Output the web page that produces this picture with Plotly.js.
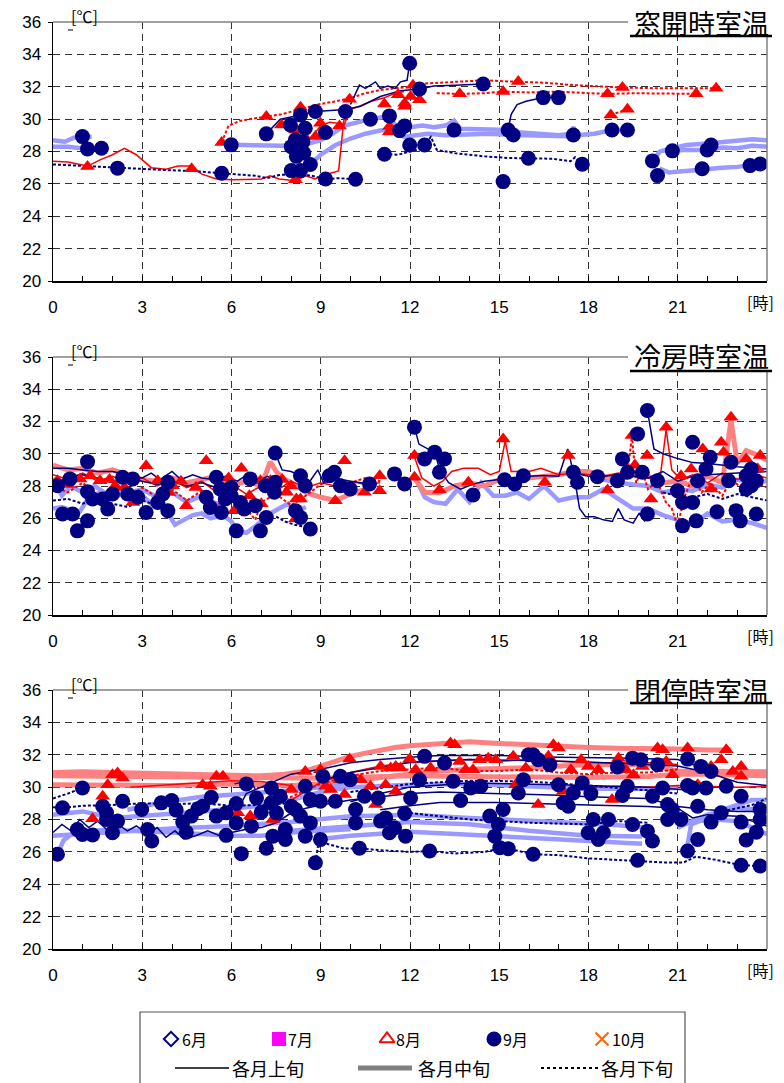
<!DOCTYPE html>
<html><head><meta charset="utf-8">
<script src="https://cdn.plot.ly/plotly-3.0.1.min.js"></script>
<style>html,body{margin:0;padding:0;background:#fff;}</style>
</head><body>
<div id="chart" style="width:784px;height:1083px;"></div>
<script>
// ---------- DATA (hour, °C) ----------
const panelTitles = ['窓開時室温', '冷房時室温', '閉停時室温'];
const hourTicks = [0, 3, 6, 9, 12, 15, 18, 21];
const tempTicks = [20, 22, 24, 26, 28, 30, 32, 34, 36];
const monthLabels = ['6月', '7月', '8月', '9月', '10月'];
const periodLabels = ['各月上旬', '各月中旬', '各月下旬'];

// Panel 1: 窓開時室温
const p1RedSolidA = [[0,27.4],[0.5,27.35],[1.16,27.1],[1.6,27.5],[2.0,27.8],[2.4,28.2],[2.8,27.8],[3.3,27.0],[3.8,26.9],[4.2,27.1],[4.66,27.1],[5.0,26.6],[5.5,26.3],[6.0,26.25],[7.0,26.3],[7.3,26.5],[7.6,26.3],[8.15,26.2],[8.5,26.5],[8.8,26.3],[9.2,26.6],[9.6,26.8],[9.75,29.5],[10.0,30.6],[10.3,30.8],[10.7,31.1],[11.1,31.3],[11.5,31.6],[11.8,31.7]];
const p1RedSolidB = [[8.0,29.8],[8.3,29.5],[8.65,28.8],[9.0,29.6],[9.3,29.8],[9.75,29.7],[9.9,30.8]];
const p1RedDotA = [[5.67,28.55],[5.9,29.6],[6.3,29.9],[6.7,30.0],[7.17,30.16],[7.68,30.3],[8.3,30.6],[8.9,30.9],[9.5,31.1],[10.0,31.3],[10.5,31.6],[11.0,31.8],[11.5,31.9],[12.0,32.0],[12.5,32.2],[13.5,32.3],[14.5,32.4],[15.0,32.35],[15.64,32.32],[16.5,32.25],[17.5,32.1],[18.5,32.0],[19.14,31.95],[20.5,31.9],[21.5,31.9],[22.29,31.9]];
const p1RedDotB = [[12.9,31.6],[13.67,31.56],[14.5,31.6],[15.13,31.7],[16.0,31.65],[17.0,31.7],[18.0,31.6],[18.64,31.56],[19.5,31.6],[20.5,31.6],[21.62,31.56]];
const p1RedDotC = [[18.75,30.26],[19.31,30.61]];
const p1NavySolidA = [[7.17,29.09],[7.64,29.99],[8.32,30.26],[8.82,30.47],[9.83,30.6],[10.34,30.8],[11.0,31.4],[11.68,31.76],[12.32,31.86],[12.8,32.05],[13.5,32.1],[14.46,32.17]];
const p1NavySolidB = [[10.0,30.9],[10.3,32.1],[10.5,31.9],[10.84,32.3],[11.0,31.9],[11.25,32.05],[11.5,31.9],[11.68,32.3],[11.9,32.4],[11.99,33.45]];
const p1NavySolidC = [[15.3,29.33],[15.4,30.3],[15.6,30.9],[15.9,31.1],[16.48,31.33],[16.99,31.33]];
const p1NavyDotA = [[0,27.2],[0.5,27.15],[1.16,27.1],[2.17,26.97],[3.0,26.9],[3.8,26.85],[4.66,26.8],[5.67,26.66],[6.2,26.55],[6.8,26.5],[7.2,26.35],[7.6,26.55],[8.2,26.6],[8.7,26.5],[9.16,26.3],[9.6,26.35],[10.17,26.29]];
const p1NavyDotB = [[11.14,27.83],[11.6,27.8],[12.0,28.0],[12.4,28.2],[12.7,28.9],[12.9,28.1],[13.5,27.9],[14.5,27.7],[15.3,27.6],[15.98,27.58],[16.8,27.55],[17.4,27.4],[17.55,27.65],[17.79,27.21]];
const p1BlueA = [[0,28.7],[0.4,28.6],[0.7,28.85],[0.99,28.92],[1.3,28.9]];
const p1BlueB = [[0,28.3],[0.5,28.3],[1.16,28.16],[1.63,28.2]];
const p1BlueC = [[5.99,28.41],[6.5,28.4],[7.2,28.4],[7.7,28.35],[8.2,28.45],[8.6,28.5],[9.0,28.7],[9.4,29.1],[9.8,29.6],[10.2,29.8],[10.67,30.0],[11.0,30.1],[11.3,30.2],[11.55,29.5],[12.0,29.5],[12.4,29.6],[12.8,29.5],[13.2,29.6],[13.48,29.9],[13.7,29.4],[14.5,29.35],[15.0,29.35],[15.5,29.2],[16.5,29.1],[17.0,29.0],[17.4,29.1]];
const p1BlueD = [[8.65,27.2],[9.0,27.8],[9.5,28.4],[10.0,28.8],[10.5,29.1],[11.0,29.3],[11.5,29.4],[11.8,28.9],[12.2,29.0],[12.6,29.1],[13.2,29.0],[14.0,29.05],[14.6,29.1],[15.47,29.02],[16.0,29.0],[16.6,28.95],[17.3,28.95],[17.5,29.5],[17.6,29.0],[18.2,29.1],[18.79,29.33],[19.31,29.33]];
const p1BlueE = [[20.15,27.42],[20.4,28.0],[20.82,28.2],[21.3,28.4],[21.99,28.5],[22.5,28.6],[23.0,28.7],[23.5,28.75],[24,28.7]];
const p1BlueF = [[20.82,28.04],[21.3,28.1],[21.99,28.1],[22.5,28.25],[23.0,28.2],[23.5,28.35],[24,28.3]];
const p1BlueG = [[20.32,26.51],[20.45,26.9],[20.7,26.7],[21.2,26.8],[21.82,26.93],[22.5,27.0],[23.0,27.05],[23.43,27.13],[23.77,27.23]];
const p1Circles = [[0.99,28.92],[1.16,28.16],[1.63,28.2],[2.17,26.97],[5.67,26.66],[5.99,28.41],[7.17,29.09],[7.98,29.64],[8.32,30.26],[8.01,28.3],[8.15,28.72],[8.4,28.6],[8.18,27.7],[8.43,27.9],[8.65,27.2],[8.01,26.82],[8.32,26.82],[8.48,29.44],[8.82,30.47],[9.16,29.17],[9.16,26.3],[9.83,30.47],[10.17,26.29],[10.67,29.99],[11.31,30.2],[11.14,27.83],[11.65,29.29],[11.82,29.58],[11.99,33.45],[11.99,28.4],[12.32,31.86],[12.49,28.4],[13.48,29.33],[14.46,32.17],[15.3,29.33],[15.47,29.02],[15.13,26.14],[15.98,27.58],[16.48,31.33],[16.99,31.33],[17.49,29.02],[17.79,27.21],[18.79,29.33],[19.31,29.33],[20.15,27.42],[20.32,26.51],[20.82,28.04],[21.82,26.93],[21.99,28.1],[22.12,28.4],[23.43,27.13],[23.77,27.23]];
const p1Triangles = [[5.67,28.55],[1.16,27.07],[4.66,26.93],[7.17,30.16],[7.68,29.64],[8.32,30.73],[8.15,29.33],[8.3,30.3],[8.82,28.92],[8.99,29.74],[9.63,29.58],[9.97,31.23],[11.14,30.94],[11.31,29.54],[11.3,29.2],[11.6,31.5],[11.82,30.98],[11.82,30.8],[12.02,31.39],[12.32,31.19],[12.1,32.1],[13.67,31.56],[15.13,31.7],[15.64,32.32],[18.64,31.56],[19.14,31.95],[18.75,30.26],[19.31,30.61],[21.62,31.56],[22.29,31.9],[8.15,26.25]];

// Panel 2: 冷房時室温
const p2PinkA = [[0,29.3],[0.5,29.0],[1,29.1],[1.5,28.8],[2,29.0],[2.5,28.7],[3,28.4],[3.5,28.3],[4,28.5],[4.5,28.2],[5,28.4],[5.5,28.6],[6,28.0],[6.5,28.3],[7,28.0],[7.3,29.5],[7.5,28.9],[7.8,28.4],[8.2,28.0],[8.5,27.6],[9,27.3],[9.5,27.1],[10,27.5],[10.5,27.8]];
const p2PinkB = [[12.15,28.5],[12.5,27.6],[13.0,27.6],[13.5,28.0],[14.0,28.2],[14.5,28.0],[15.0,28.4],[15.5,28.3],[16.0,28.5],[16.5,28.6],[17.0,28.7],[17.5,28.9],[18.0,28.9],[18.5,28.6],[19.0,28.4],[19.5,28.7],[20.0,28.6],[20.5,28.2],[21.0,28.3],[21.5,28.0],[22.0,28.6],[22.5,28.2],[22.79,32.1],[23.0,29.4],[23.3,30.2],[23.7,29.9],[24,29.6]];
const p2NavyA = [[0,29.1],[0.5,29.1],[1,29.0],[1.5,28.9],[2,28.9],[2.5,28.7],[3,28.5],[3.3,28.8],[3.6,28.4],[4.0,28.9],[4.3,28.4],[4.7,28.7],[5.0,28.5],[5.4,28.4],[5.8,28.6],[6.2,28.3],[6.6,28.8],[6.9,28.3],[7.2,28.6],[7.5,28.4]];
const p2NavyB = [[0,28.0],[0.5,28.6],[1,28.7],[1.5,28.5],[2,28.2],[2.5,28.5],[3,28.3],[3.5,28.1],[4,28.3],[4.5,28.0],[5,28.2],[5.5,27.9],[6,28.1]];
const p2NavyC = [[7.47,30.05],[7.7,29.0],[8.0,28.9],[8.32,28.64],[8.6,28.2],[8.9,29.0],[9.1,28.2],[9.29,28.64],[9.5,28.5],[9.7,28.4],[10.0,28.3],[10.3,28.2],[10.64,28.12]];
const p2NavyD = [[12.15,31.65],[12.3,30.6],[12.6,30.3],[12.83,30.1],[13.0,29.0],[13.3,28.2],[13.7,27.8],[14.1,28.1],[14.5,28.3],[15.0,28.4],[15.5,28.35],[16.0,28.6],[16.5,28.65],[17.0,28.6],[17.3,30.3],[17.5,28.8],[17.7,26.6],[17.9,26.1],[18.2,26.1],[18.5,25.9],[18.8,25.8],[19.0,26.6],[19.2,25.9],[19.5,25.7],[19.7,26.3],[19.9,25.8]];
const p2NavyE = [[19.98,32.68],[20.2,30.3],[20.5,30.0],[21.0,29.7],[21.5,29.45],[22.0,29.4],[23.0,29.2],[24,29.05]];
const p2NavyF = [[17.5,28.8],[18.0,28.6],[18.5,28.6],[19.0,28.7],[19.5,28.6],[20.0,28.5],[20.5,28.9],[21.0,28.3],[21.5,28.6],[22,28.7],[23,28.8],[24,28.9]];
const p2RedA = [[0,28.7],[0.5,28.4],[1,28.8],[1.5,28.3],[2,28.6],[2.5,28.2],[3,28.5],[3.5,28.0],[4,28.4],[4.5,27.9],[5,28.3],[5.5,27.6],[6,28.1],[6.5,27.5],[7,28.0],[7.5,27.7],[8,28.3],[8.5,27.9],[9,28.2],[9.5,28.0],[10,28.3],[10.5,28.1],[11,28.2]];
const p2RedB = [[12.15,29.8],[12.4,28.5],[12.8,28.0],[13.1,28.3],[13.4,28.9],[13.8,29.1],[14.3,29.1],[14.7,28.7],[15.0,28.9],[15.2,30.8],[15.4,28.9],[16.0,28.9],[16.4,29.1],[17.0,28.7],[17.5,28.8],[18.0,28.7],[18.5,28.6],[19.0,28.8],[19.5,28.6],[20.0,28.5],[20.4,28.4],[20.61,31.5],[20.8,29.0],[21.1,28.4],[21.5,28.7],[22,28.2],[22.5,28.8],[23,28.4],[23.5,28.7],[24,28.5]];
const p2RedDotA = [[0,28.0],[0.5,27.6],[1,28.2],[1.5,27.4],[2,27.8],[2.5,27.2],[3,27.9],[3.5,27.3],[4,27.8],[4.5,27.1],[5,27.7],[5.5,26.8],[6,27.4],[6.5,26.6],[6.8,25.9],[7,27.0],[7.5,27.5],[8,26.8],[8.5,27.4],[9,28.1],[9.5,28.4],[10,28.2],[10.5,28.5],[11,28.3]];
const p2RedDotB = [[19.3,28.6],[19.46,31.1],[19.6,28.2],[19.8,29.0],[20.0,27.8],[20.3,28.3],[20.6,27.0],[20.8,26.6],[21.0,25.5],[21.2,27.2],[21.5,28.6],[21.8,27.6],[22.1,28.2],[22.5,27.4],[22.8,28.4],[23.2,27.8],[23.6,28.3],[24,27.9]];
const p2BlueA = [[0,26.6],[0.3,26.7],[0.6,26.5],[0.9,26.4],[1.1,27.0],[1.3,27.4],[1.6,27.6],[2.0,27.3],[2.5,27.6],[3.0,27.4],[3.3,26.9],[3.6,27.3],[3.9,26.2],[4.1,25.6],[4.4,25.9],[4.7,26.2],[5.0,26.3],[5.3,26.0],[5.7,26.2],[6.0,25.8],[6.2,25.2],[6.5,25.1],[6.8,25.5],[7.0,25.8],[7.3,26.3],[7.6,26.6],[7.9,26.9],[8.2,26.4],[8.5,26.7]];
const p2BlueB = [[0,28.5],[0.3,27.4],[0.6,28.0],[1.0,27.6],[1.4,28.0],[1.8,27.5],[2.2,27.9],[2.6,27.6],[3.0,27.8],[3.5,27.3],[4.0,27.6],[4.5,27.0],[5.0,27.4],[5.5,26.9],[6.0,27.2]];
const p2BlueC = [[12.2,28.4],[12.5,27.3],[12.8,27.0],[13.2,26.9],[13.6,27.8],[14.0,27.0],[14.4,28.2],[14.8,27.4],[15.2,27.4],[15.6,27.6],[16.0,27.2],[16.5,28.0],[17.0,27.1],[17.5,27.3],[18.0,27.3],[18.5,27.8],[19.0,27.2],[19.5,26.6],[20.0,26.6],[20.5,26.2],[21.0,25.9],[21.5,25.6],[22.0,26.3],[22.5,25.8],[23.0,25.9],[23.5,25.7],[24,25.4]];
const p2BlueD = [[18.5,28.4],[19.0,28.2],[19.5,28.1],[20.0,28.0],[20.5,27.6],[21.0,27.8],[21.5,27.7],[22.0,28.1],[22.5,27.9],[23.0,28.4],[23.5,28.2],[24,28.3]];
const p2NavyDotA = [[0,27.1],[0.5,27.2],[1.0,26.9],[1.5,27.3],[2.0,26.9],[2.5,26.7],[3.0,27.1],[3.5,26.8]];
const p2NavyDotB = [[7.5,26.1],[7.8,25.8],[8.1,25.6],[8.4,25.5],[8.65,25.4]];
const p2NavyDotC = [[20.5,27.6],[21.0,27.4],[21.5,27.3],[22.0,27.5],[22.5,27.2],[23.0,27.5],[23.5,27.3],[24,27.1]];
const p2CirclesAM = [[0.15,28.02],[0.32,26.26],[0.66,26.26],[0.82,25.22],[1.16,25.84],[1.16,29.51],[1.16,27.65],[1.33,27.19],[0.57,28.44],[1.67,27.19],[1.84,26.57],[2.0,27.5],[2.34,28.54],[2.68,28.44],[2.51,27.5],[2.85,27.3],[3.13,26.36],[3.52,26.98],[3.69,27.5],[3.86,26.47],[3.86,28.23],[5.15,27.3],[5.29,26.67],[5.49,28.54],[5.62,27.81],[5.66,26.36],[5.79,27.19],[5.99,27.92],[5.99,27.4],[6.16,25.22],[6.3,26.98],[6.43,26.57],[6.63,28.44],[6.8,26.78],[6.97,25.22],[7.14,28.02],[7.17,26.05],[7.44,27.61],[7.47,28.23],[7.47,30.05],[8.15,26.47],[8.32,28.64],[8.32,26.05],[8.48,28.02],[8.65,25.33],[9.46,28.85],[9.66,28.02],[9.99,27.81],[10.64,28.12],[11.48,28.75],[11.82,28.12],[9.29,28.64]];
const p2CirclesPM = [[12.15,31.65],[12.49,29.68],[12.83,30.1],[13.16,29.68],[12.99,28.85],[14.12,27.44],[15.18,28.39],[15.52,28.12],[15.81,28.64],[17.49,28.85],[17.63,28.23],[18.3,28.58],[18.97,28.33],[19.14,29.68],[19.31,28.85],[19.65,31.23],[19.98,32.68],[19.81,28.85],[19.98,26.26],[20.32,28.33],[20.99,27.71],[21.16,26.98],[21.5,26.98],[21.16,25.53],[21.5,30.71],[21.67,28.33],[21.62,25.84],[22.09,29.78],[21.95,29.06],[22.32,26.4],[22.79,29.47],[22.71,28.33],[22.96,26.47],[23.1,25.84],[23.3,28.64],[23.47,28.02],[23.64,28.33],[23.64,26.26],[23.3,27.81],[23.47,29.06]];
const p2TrianglesAM = [[0.15,28.33],[0.91,28.44],[1.25,28.64],[1.58,28.33],[2.09,28.02],[2.68,26.98],[3.13,29.26],[3.52,28.33],[4.02,28.02],[4.48,26.78],[5.15,29.57],[5.62,28.02],[6.33,29.1],[6.97,28.33],[7.39,28.02],[7.85,27.61],[8.18,27.19],[8.15,25.95],[9.49,27.09],[9.8,29.57],[10.47,27.61],[10.98,28.64],[10.98,27.71],[6.09,26.47],[7.31,28.33],[8.32,27.19],[0.5,28.1],[1.9,28.4],[2.4,27.9],[3.9,27.6],[4.3,28.3],[4.8,27.9],[5.9,28.5],[6.6,27.4],[7.0,26.9],[7.7,28.4],[8.0,28.0]];
const p2TrianglesPM = [[12.15,29.89],[12.15,28.54],[12.99,27.75],[13.96,28.23],[15.13,30.92],[16.53,28.23],[17.32,29.89],[18.64,27.75],[19.46,31.13],[19.56,29.31],[19.97,29.89],[20.1,27.19],[20.61,31.65],[21.11,28.64],[21.45,29.06],[21.84,30.3],[22.12,27.81],[22.46,30.71],[22.54,30.09],[22.79,32.27],[23.3,29.68],[23.77,29.89],[23.69,29.06]];

// Panel 3: 閉停時室温
const p3PinkA = [[0,30.9],[1,30.95],[2,30.9],[3,30.85],[4,30.8],[5,30.8],[6,30.75],[7,30.7],[7.8,30.8],[8.5,31.0],[9,31.3],[9.5,31.6],[10,31.9],[10.5,32.1],[11,32.3],[11.5,32.45],[12,32.55],[13,32.65],[14,32.8],[15,32.7],[16,32.6],[17,32.55],[18,32.45],[19,32.4],[20,32.4],[21,32.35],[22,32.3],[22.8,32.3]];
const p3PinkB = [[0,30.7],[2,30.65],[4,30.6],[6,30.55],[8,30.5],[9,30.55],[10,30.6],[12,30.7],[14,30.65],[16,30.6],[18,30.6],[20,30.65],[21,30.8],[22,30.8],[23,30.75],[24,30.7]];
const p3PinkC = [[0,30.15],[2,30.1],[4,30.1],[6,30.2],[8,30.1],[9,30.2],[10,30.4],[11,30.6],[12,30.8],[13,31.0],[14,31.1],[16,31.2],[18,31.4],[20,31.4],[21,31.0],[22,31.0],[23,30.95],[24,30.95]];
const p3RedA = [[2.6,30.0],[3,30.05],[4,30.15],[5,30.3],[6,30.4],[7,30.35],[8,30.1]];
const p3RedB = [[8,29.2],[9,30.3],[10,30.9],[11,31.3],[12,31.5],[13,31.6],[14,31.7],[15,31.6],[16,31.7],[17,31.6],[18,31.5],[19,31.5],[20,31.5],[21,31.4]];
const p3RedC = [[17.5,30.1],[18,30.0],[19,30.05],[20,30.0],[21,30.1],[22,30.05],[23,30.0],[24,30.05]];
const p3RedDot = [[7.5,29.0],[8,29.4],[9,30.2],[10,30.7],[11,31.0],[12,31.1],[13,31.2],[14,31.0],[15,31.0],[16,31.1],[17,30.9],[18,30.8],[19,30.9],[20,30.9],[21,31.1]];
const p3NavyA = [[0,27.2],[0.3,27.7],[0.6,27.3],[0.9,28.0],[1.2,27.5],[1.5,27.9],[1.8,27.4],[2.1,27.8],[2.5,27.3],[2.8,27.6],[3.2,27.1],[3.5,27.5],[3.8,26.9],[4.1,27.3],[4.4,26.8],[4.8,27.0],[5.2,27.3],[5.6,27.0],[6.0,27.2],[6.5,27.4],[7.0,27.5],[7.5,27.8],[8.0,28.4],[8.5,28.7],[9.0,28.9],[10.0,29.2],[11.0,29.4],[12.0,29.6],[13.0,29.7],[15.0,29.6],[17.0,29.5],[18.0,29.4],[20.0,29.3],[21.0,28.8],[22.0,28.6],[23.0,28.5],[24.0,28.5]];
const p3NavyB = [[6.2,28.6],[6.5,29.6],[7.0,30.0],[7.5,30.4],[8.0,30.8],[9.0,31.1],[10.0,31.5],[11.0,31.7],[12.0,31.85],[13.0,31.95],[15.0,31.95],[17.0,31.85],[19.0,31.8],[21.0,31.7],[21.5,31.4],[22,31.2]];
const p3NavyC = [[9,30.4],[10,30.9],[11,31.2],[12,31.55],[14,31.7],[16,31.65],[18,31.55],[20,31.4],[21,31.3],[22,30.9],[23,30.3],[24,30.1]];
const p3NavyD = [[10,29.1],[11,29.6],[12,30.0],[14,30.25],[17,30.15],[20,30.0],[21.5,29.8]];
const p3NavyE = [[11,28.6],[12,28.85],[13,29.05],[15,29.05],[18,28.9],[20,28.8],[21,28.7],[21.5,28.1],[22,28.3],[23,28.2],[23.5,27.9],[24,27.6]];
const p3NavyF = [[6.1,30.2],[6.6,30.4],[6.8,29.9]];
const p3NavyDotA = [[8.82,25.33],[8.9,26.3],[9.2,26.5],[9.8,26.2],[10.3,26.22],[11.0,26.1],[12.0,26.0],[12.66,26.05],[13.5,25.9],[14.0,25.95],[14.5,26.0],[15.0,26.2],[15.3,26.2],[16.14,25.85],[17.0,25.8],[18.0,25.6],[19.0,25.5],[19.65,25.48],[20.5,25.35],[21.2,25.35],[21.6,25.7],[22.3,25.5],[23.13,25.17],[23.77,25.13]];
const p3NavyDotB = [[0,29.3],[0.5,29.6],[0.99,29.95]];
const p3NavyDotC = [[0,28.75],[0.32,28.72],[1,28.85],[2,28.9],[3,29.0],[4,28.95],[5,29.0],[6,28.85],[7,28.9],[8,29.0]];
const p3NavyDotD = [[10,29.7],[12,30.2],[14,30.4],[16,30.35],[18,30.1],[20,29.8],[21,29.6]];
const p3NavyDotE = [[12,28.4],[14,28.0],[16,27.8],[18,27.7],[19,27.9],[20,27.8]];
const p3NavyDotF = [[22.5,28.5],[23,28.7],[23.5,28.9],[24,29.3]];
const p3BlueA = [[0.15,25.85],[0.35,26.7],[0.7,27.2],[1.2,27.3],[2,27.35],[3,27.3],[4,27.2],[5,27.1],[6,27.0],[7,27.0],[8,27.2],[9,27.3],[10,27.4]];
const p3BlueB = [[0,28.3],[1,28.5],[2,28.1],[3,28.2],[4,28.35],[5,28.5],[6,28.7],[7,28.85],[8,29.2],[9,29.7],[10,30.0],[11,30.1],[12,30.15],[14,30.2],[16,30.05],[18,29.9],[20,29.9],[21,29.95]];
const p3BlueC = [[0,27.0],[2,27.25],[4,27.45],[6,27.6],[8,27.85],[10,28.2],[12,28.3],[14,28.1],[16,27.95],[18,27.75],[19,27.65],[19.9,27.5]];
const p3BlueD = [[8,27.3],[10,27.6],[12,27.85],[14,27.7],[16,27.3],[18,27.0],[19.8,26.95]];
const p3BlueE = [[9,26.8],[10,27.0],[12,27.25],[14,27.05],[16,26.9],[18,26.65],[19.8,26.5]];
const p3BlueF = [[2.5,28.6],[3.5,29.0],[5,29.4],[6.5,29.6],[8,29.8],[9.5,30.1],[10.5,30.5]];
const p3BlueG = [[21.3,26.1],[21.45,27.7],[22,28.1],[22.5,28.6],[23,28.9],[23.5,29.2],[24,29.2]];
const p3BlueH = [[21,27.5],[22,28.3],[23,28.7],[24,28.6]];
const p3BlueI = [[21.6,27.9],[22.2,28.0],[23,27.9],[24,27.1]];
const p3Circles = [[0.15,25.85],[0.32,28.72],[0.99,29.95],[0.82,27.38],[0.99,27.08],[1.33,27.04],[1.67,28.82],[1.8,28.41],[1.8,28.0],[2.0,27.18],[2.17,27.9],[2.34,29.13],[2.98,28.62],[3.18,27.38],[3.32,26.67],[3.64,29.03],[3.99,29.17],[4.14,28.58],[4.36,27.84],[4.48,27.22],[4.65,28.21],[4.87,28.66],[5.03,28.82],[5.32,29.37],[5.49,28.21],[5.82,28.41],[5.82,27.02],[6.16,28.99],[6.16,27.79],[6.33,25.89],[6.5,30.2],[6.67,27.59],[6.84,29.33],[7.0,28.45],[7.17,26.22],[7.34,29.95],[7.34,29.03],[7.39,26.97],[7.51,28.41],[7.64,29.44],[7.81,27.38],[7.81,26.77],[8.01,28.82],[8.15,28.62],[8.32,28.21],[8.48,30.05],[8.48,26.97],[8.65,29.23],[8.65,27.79],[8.82,25.33],[8.99,29.13],[8.99,26.77],[9.07,30.67],[9.49,29.13],[9.66,30.67],[9.99,30.46],[10.17,28.62],[10.17,27.79],[10.3,26.22],[10.47,29.44],[10.93,29.33],[11.01,27.9],[11.18,28.1],[11.31,27.18],[11.48,27.49],[11.82,28.37],[11.85,26.97],[12.02,29.33],[12.32,30.46],[12.49,31.9],[12.66,26.05],[13.16,31.49],[13.45,30.36],[13.7,29.17],[14.04,29.95],[14.38,30.05],[14.68,28.21],[14.85,26.97],[14.97,27.69],[15.02,26.26],[15.13,28.62],[15.3,26.2],[15.64,29.64],[15.81,30.46],[15.98,32.0],[16.14,32.0],[16.31,31.69],[16.14,25.85],[16.7,31.38],[16.99,30.15],[17.15,29.03],[17.32,28.82],[17.49,29.64],[17.79,30.26],[17.99,27.18],[18.08,29.6],[18.16,28.0],[18.33,26.77],[18.5,27.18],[18.67,28.0],[18.97,31.24],[19.14,29.48],[19.31,30.05],[19.48,27.69],[19.48,31.79],[19.65,25.48],[19.76,31.69],[19.98,27.28],[20.15,29.44],[20.15,26.67],[20.32,31.38],[20.49,29.95],[20.66,28.92],[20.82,28.62],[20.66,28.0],[21.11,28.0],[21.33,31.73],[21.33,30.1],[21.33,26.05],[21.5,29.95],[21.67,26.77],[21.67,28.82],[21.78,31.28],[21.95,29.95],[22.12,30.97],[22.12,27.84],[22.46,28.41],[22.63,30.05],[23.13,29.44],[23.13,27.84],[23.3,26.73],[23.13,25.17],[23.64,27.22],[23.77,28.62],[23.77,28.0],[23.77,25.13]];
const p3Triangles = [[1.33,28.04],[1.67,29.44],[1.84,30.15],[2.0,30.77],[2.17,30.87],[2.34,30.56],[5.03,30.15],[5.29,30.05],[5.49,30.67],[5.71,30.67],[6.21,28.41],[6.63,28.21],[7.31,29.23],[7.39,28.0],[8.01,29.85],[8.48,30.97],[8.99,31.08],[9.16,30.05],[9.33,29.85],[9.66,30.46],[9.8,29.54],[9.97,31.73],[10.34,30.46],[10.67,30.05],[10.84,28.92],[11.01,31.28],[11.18,30.15],[11.35,31.18],[11.52,31.28],[11.68,31.18],[11.52,29.74],[11.99,31.73],[12.19,31.08],[12.69,31.18],[13.36,32.72],[13.5,32.62],[13.67,31.59],[13.87,31.08],[14.12,31.08],[14.34,31.69],[14.63,31.79],[14.88,31.69],[15.47,31.9],[15.55,30.15],[15.89,31.18],[16.31,28.92],[16.65,31.9],[16.82,32.62],[16.99,32.41],[17.15,29.74],[17.41,31.08],[17.75,31.69],[17.99,31.28],[18.33,31.08],[18.79,29.23],[19.01,31.79],[19.26,31.08],[19.51,30.77],[19.81,31.28],[20.32,32.41],[20.49,32.31],[20.61,31.59],[20.82,30.77],[21.33,32.41],[21.67,30.15],[22.12,31.28],[22.46,31.69],[22.63,32.31],[22.85,30.97],[23.13,31.28],[23.13,30.67]];

// ---------- STYLES ----------
const NAVY = '#000080', RED = '#FF0000';
const STY = {
  blue:    {color:'#9999FF', width:4.5},
  pink:    {color:'#FF8080', width:5},
  navy:    {color:NAVY, width:1.5},
  red:     {color:RED, width:1.5},
  navyDot: {color:NAVY, width:2, dash:'3px,2px'},
  redDot:  {color:RED, width:2, dash:'3px,2px'}
};

const panels = [
  {lines:[['blue',p1BlueA],['blue',p1BlueB],['blue',p1BlueC],['blue',p1BlueD],['blue',p1BlueE],['blue',p1BlueF],['blue',p1BlueG],
          ['red',p1RedSolidA],['red',p1RedSolidB],['redDot',p1RedDotA],['redDot',p1RedDotB],['redDot',p1RedDotC],
          ['navy',p1NavySolidA],['navy',p1NavySolidB],['navy',p1NavySolidC],['navyDot',p1NavyDotA],['navyDot',p1NavyDotB]],
   tri:[p1Triangles], cir:[p1Circles]},
  {lines:[['blue',p2BlueA],['blue',p2BlueB],['blue',p2BlueC],['blue',p2BlueD],['pink',p2PinkA],['pink',p2PinkB],
          ['red',p2RedA],['red',p2RedB],['redDot',p2RedDotA],['redDot',p2RedDotB],
          ['navy',p2NavyA],['navy',p2NavyB],['navy',p2NavyC],['navy',p2NavyD],['navy',p2NavyE],['navy',p2NavyF],
          ['navyDot',p2NavyDotA],['navyDot',p2NavyDotB],['navyDot',p2NavyDotC]],
   tri:[p2TrianglesAM,p2TrianglesPM], cir:[p2CirclesAM,p2CirclesPM]},
  {lines:[['pink',p3PinkA],['pink',p3PinkB],['pink',p3PinkC],
          ['blue',p3BlueA],['blue',p3BlueB],['blue',p3BlueC],['blue',p3BlueD],['blue',p3BlueE],['blue',p3BlueF],['blue',p3BlueG],['blue',p3BlueH],['blue',p3BlueI],
          ['red',p3RedA],['red',p3RedB],['red',p3RedC],['redDot',p3RedDot],
          ['navy',p3NavyA],['navy',p3NavyB],['navy',p3NavyC],['navy',p3NavyD],['navy',p3NavyE],['navy',p3NavyF],
          ['navyDot',p3NavyDotA],['navyDot',p3NavyDotB],['navyDot',p3NavyDotC],['navyDot',p3NavyDotD],['navyDot',p3NavyDotE],['navyDot',p3NavyDotF]],
   tri:[p3Triangles], cir:[p3Circles]}
];

// ---------- LAYOUT GEOMETRY (pixels) ----------
const W = 784, H = 1083;
const plotLeft = 53, plotRight = 767;
const panelTops = [22, 357, 690], panelBottoms = [281, 615, 949];
const titleCenterY = [22, 356, 690], underlineY = [36, 371, 703];
const px = v => v / W, py = v => 1 - v / H;
const JP = '"Noto Sans CJK JP", sans-serif';
const NUM = '"Liberation Sans", Arial, sans-serif';

const traces = [];
const layout = {
  width: W, height: H, margin:{l:0,r:0,t:0,b:0},
  paper_bgcolor:'#fff', plot_bgcolor:'#fff', showlegend:false,
  annotations:[], shapes:[]
};

panels.forEach((p, i) => {
  const n = i === 0 ? '' : String(i + 1);
  const xa = 'x' + n, ya = 'y' + n;
  p.lines.forEach(([s, pts]) => traces.push({
    x: pts.map(d => d[0]), y: pts.map(d => d[1]), xaxis: xa, yaxis: ya,
    mode:'lines', line: Object.assign({}, STY[s]), hoverinfo:'skip'
  }));
  p.tri.forEach(pts => traces.push({
    x: pts.map(d => d[0]), y: pts.map(d => d[1]), xaxis: xa, yaxis: ya,
    mode:'markers', marker:{symbol:'triangle-up', size:13, color:RED, line:{width:0}}, hoverinfo:'skip'
  }));
  p.cir.forEach(pts => traces.push({
    x: pts.map(d => d[0]), y: pts.map(d => d[1]), xaxis: xa, yaxis: ya,
    mode:'markers', marker:{symbol:'circle', size:15, color:NAVY, line:{width:0}}, hoverinfo:'skip'
  }));

  layout['xaxis' + n] = {
    domain:[px(plotLeft), px(plotRight)], anchor: ya, range:[0, 24],
    tickmode:'array', tickvals: hourTicks, ticktext: hourTicks.map(String),
    showgrid:true, gridcolor:'#333', gridwidth:1, griddash:'7px,5px',
    zeroline:false, showline:true, linecolor:'#000', linewidth:1.5,
    ticks:'inside', ticklen:5, tickcolor:'#000', tickwidth:1,
    minor:{tickmode:'linear', tick0:0, dtick:1, ticks:'inside', ticklen:5, tickcolor:'#000', showgrid:false},
    tickfont:{family:NUM, size:17, color:'#000'}, ticklabelstandoff:10, fixedrange:true
  };
  layout['yaxis' + n] = {
    domain:[py(panelBottoms[i]), py(panelTops[i])], anchor: xa, range:[20, 36],
    tickmode:'array', tickvals: tempTicks, ticktext: tempTicks.map(String),
    showgrid:true, gridcolor:'#333', gridwidth:1, griddash:'7px,5px',
    zeroline:false, showline:true, linecolor:'#000', linewidth:1.5,
    ticks:'outside', ticklen:4, tickcolor:'#000',
    tickfont:{family:NUM, size:17, color:'#000'}, ticklabelstandoff:3, fixedrange:true
  };
  // gray top / right frame
  layout.shapes.push({type:'line', xref: xa + ' domain', yref: ya + ' domain', x0:0, x1:1, y0:1, y1:1, line:{color:'#808080', width:1.5}});
  layout.shapes.push({type:'line', xref: xa + ' domain', yref: ya + ' domain', x0:1, x1:1, y0:0, y1:1, line:{color:'#808080', width:1.5}});
  const top = panelTops[i], bot = panelBottoms[i];
  // unit labels
  layout.annotations.push({xref:'paper', yref:'paper', x:px(84), y:py(top - 6), text:'[℃]', showarrow:false,
    xanchor:'center', yanchor:'middle', font:{family:JP, size:16, color:'#000'}});
  layout.shapes.push({type:'line', xref:'paper', yref:'paper', x0:px(68), x1:px(73), y0:py(top + 8), y1:py(top + 8), line:{color:'#000', width:1}});
  layout.annotations.push({xref:'paper', yref:'paper', x:px(760), y:py(bot + 21), text:'[時]', showarrow:false,
    xanchor:'center', yanchor:'middle', font:{family:JP, size:16, color:'#000'}});
  // panel title: white patch, underline, then text
  layout.shapes.push({type:'rect', xref:'paper', yref:'paper', x0:px(628), x1:px(776), y0:py(titleCenterY[i] - 14), y1:py(underlineY[i] - 1),
    line:{width:0}, fillcolor:'#fff', layer:'above'});
  layout.shapes.push({type:'line', xref:'paper', yref:'paper', x0:px(630), x1:px(772), y0:py(underlineY[i]), y1:py(underlineY[i]),
    line:{color:'#000', width:2.5}, layer:'above'});
  layout.annotations.push({xref:'paper', yref:'paper', x:px(701), y:py(titleCenterY[i]), text: panelTitles[i], showarrow:false,
    xanchor:'center', yanchor:'middle', font:{family:JP, size:27, color:'#000'}});
});

// ---------- LEGEND (drawn on a pixel-scaled helper axis) ----------
layout.xaxis4 = {domain:[0,1], range:[0, W], visible:false, fixedrange:true};
layout.yaxis4 = {domain:[0, 83 / H], range:[H, 1000], visible:false, fixedrange:true, anchor:'x4'};
layout.shapes.push({type:'rect', xref:'x4', yref:'y4', x0:140, x1:685, y0:1012, y1:1095, line:{color:'#555', width:1.2}, fillcolor:'rgba(0,0,0,0)'});
const legRow1 = 1039, legRow2 = 1068;
const legSyms = [
  {x:171, symbol:'diamond-open', color:NAVY, size:11},
  {x:279, symbol:'square', color:'#FF00FF', size:12},
  {x:387, symbol:'triangle-up-open', color:RED, size:13},
  {x:494, symbol:'circle', color:NAVY, size:13},
  {x:602, symbol:'x-thin-open', color:'#FF6600', size:13}
];
const legTextX = [180, 286, 394, 501, 610];
legSyms.forEach((s, k) => {
  traces.push({x:[s.x], y:[legRow1], xaxis:'x4', yaxis:'y4', mode:'markers', hoverinfo:'skip',
    marker:{symbol:s.symbol, size:s.size, color:s.color, line:{color:s.color, width:2}}, cliponaxis:false});
  layout.annotations.push({xref:'x4', yref:'y4', x:legTextX[k], y:legRow1, text:monthLabels[k], showarrow:false,
    xanchor:'left', yanchor:'middle', font:{family:JP, size:16, color:'#000'}});
});
const legLines = [
  {x0:175, x1:229, style:{color:'#000', width:1.5}},
  {x0:358, x1:412, style:{color:'#808080', width:5}},
  {x0:541, x1:598, style:{color:'#000', width:2, dash:'3px,3px'}}
];
const legLineTextX = [230, 416, 599];
legLines.forEach((l, k) => {
  traces.push({x:[l.x0, l.x1], y:[legRow2, legRow2], xaxis:'x4', yaxis:'y4', mode:'lines', line:l.style, hoverinfo:'skip'});
  layout.annotations.push({xref:'x4', yref:'y4', x:legLineTextX[k], y:legRow2, text:periodLabels[k], showarrow:false,
    xanchor:'left', yanchor:'middle', font:{family:JP, size:18, color:'#000'}});
});

Plotly.newPlot('chart', traces, layout, {staticPlot:true, displayModeBar:false});
</script>
</body></html>
